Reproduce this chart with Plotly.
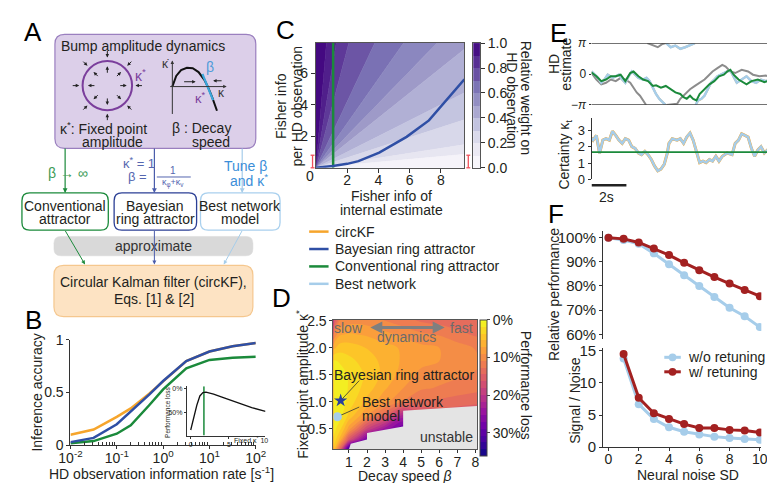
import math
import plotly.graph_objects as go
import plotly.express as px
from plotly.colors import sample_colorscale

W, H = 775, 483
FONT = "Liberation Sans, Arial, sans-serif"
INK = "#231f20"

ORANGE = "#f6a52c"
BLUE = "#2f4fa5"
GREEN = "#1b8a3b"
LBLUE = "#a6cdea"
GRAY = "#8c8c8c"
RED = "#a32121"
PURPLE = "#7b3e9c"

# ---------------- data ----------------
# B: inference accuracy vs HD observation information rate
b_rate = [0.01, 0.0316, 0.1, 0.2, 0.5, 1, 3.16, 10, 31.6, 100]
b_acc_circkf = [0.10, 0.15, 0.27, 0.35, 0.49, 0.61, 0.80, 0.89, 0.94, 0.97]
b_acc_bayes = [0.03, 0.07, 0.20, 0.32, 0.48, 0.61, 0.80, 0.89, 0.94, 0.97]
b_acc_conv = [0.02, 0.04, 0.11, 0.19, 0.38, 0.53, 0.73, 0.81, 0.83, 0.84]
# B inset: performance loss vs fixed kappa*
b_inset_kappa = [0, 0.4, 0.8, 1.2, 1.6, 2.0, 3.0, 4.0, 5.0, 6.5, 8.0, 9.8]
b_inset_loss = [88, 60, 35, 15, 8, 7, 11, 17, 23, 32, 40, 48]
b_inset_conv_kappa = 1.73

# C: relative weight bands (boundary slopes obs/internal) and Bayesian curve
c_ray_slopes = [11.8, 6.1, 3.76, 2.1, 1.41, 1.02, 0.79, 0.5, 0.32, 0.154, 0.09]
c_band_weight = [0.97, 0.9, 0.82, 0.74, 0.66, 0.58, 0.5, 0.42, 0.34, 0.26, 0.17, 0.07]
c_colorbar_levels = [0.05, 0.15, 0.25, 0.35, 0.45, 0.55, 0.65, 0.75, 0.85, 0.95]
c_internal = [0, 0.5, 1.08, 2.0, 2.72, 4.05, 5.0, 5.8, 7.23, 8.3, 9.5]
c_obs_bayes = [0, 0.05, 0.12, 0.25, 0.42, 0.96, 1.5, 1.96, 3.0, 4.2, 5.6]
c_conv_internal = 1.1

# D: performance loss over (decay speed, fixed-point amplitude)
d_beta = [0.14, 0.5, 1, 2, 3, 4, 5, 6, 7, 8.09]
d_kappa = [0.12, 0.3, 0.5, 0.75, 1.0, 1.25, 1.5, 1.75, 2.0, 2.25, 2.52]
d_loss_pct = [
    [4, 14, 34, 36, 36, 36, 36, 36, 36, 36],
    [2, 6, 16, 28, 34, 36, 36, 36, 36, 36],
    [1, 3, 8, 18, 24, 29, 30, 30, 30, 30],
    [0.5, 1, 4, 9, 14, 22, 17, 16, 16, 16],
    [0.3, 0.5, 2.5, 6, 8.5, 11, 13, 13, 13.5, 14],
    [0.3, 0.5, 2, 4.5, 7, 9, 10.5, 11, 11.5, 12],
    [0.5, 1, 2, 4, 6, 8, 9.5, 10, 10.5, 11],
    [1.5, 2, 3, 4.5, 6, 7.5, 8.5, 9, 9.5, 10.5],
    [6, 4.5, 4.5, 5.5, 6.5, 7.5, 8.5, 9, 10, 11],
    [11, 7.5, 7, 7.5, 8.5, 9.5, 10.5, 11, 12, 13],
    [17, 11, 10, 10, 11, 12, 13, 13.5, 14, 14],
]
d_unstable_beta = [1.0, 1.1, 2.0, 2.0, 4.0, 4.0, 8.09, 8.09]
d_unstable_kappa = [0.12, 0.22, 0.3, 0.42, 0.54, 0.83, 0.92, 0.12]
d_bayes_point = (0.54, 1.02)
d_best_point = (0.36, 0.72)

# E: example HD estimates (rad) and certainty over time (s)
e_t_true = [0, 0.28, 0.56, 0.83, 1.11, 1.39, 1.67, 1.94, 2.22, 2.41, 2.59, 2.78, 2.96, 3.13, None,
            3.2, 3.52, 3.8, 4.07, 4.26, None,
            4.3, 4.6, 4.91, 5.09, 5.37, 5.65, 5.93, 6.2, 6.48, 6.67, 6.94, 7.22, 7.5, 7.69, 7.96,
            8.24, 8.61, 8.98, 9.26, 9.63, 10.0, 10.37]
e_hd_true = [0.1, -0.56, -1.05, -0.89, -0.56, -0.72, -0.39, -0.56, -0.89, -1.38, -1.87, -2.2, -2.69, -3.14, None,
             3.14, 2.89, 2.72, 3.05, 3.14, None,
             -3.14, -3.1, -3.02, -2.52, -2.03, -1.54, -1.21, -0.89, -0.56, -0.23, 0.26, 0.59, 0.92, 0.75, 0.26,
             0.1, 0.43, 0.26, -0.07, -0.23, -0.16, -0.39]
e_t_best = [0, 0.19, 0.37, 0.56, 0.74, 0.93, 1.2, 1.39, 1.57, 1.76, 1.94, 2.13, 2.31, 2.5, 2.69, 2.96,
            3.15, 3.33, 3.52, 3.7, 3.89, 4.07, 4.24, None,
            4.28, 4.54, 4.81, 5.09, 5.37, 5.65, 5.93, None,
            5.97, 6.11, 6.3, 6.48, 6.67, 6.85, 7.04, 7.22, 7.41, 7.59, 7.78, 7.96, 8.15, 8.33, 8.61,
            8.89, 9.17, 9.44, 9.72, 10.0, 10.37]
e_hd_best = [0.26, -0.07, -0.39, -0.89, -0.56, -0.07, -0.39, -0.23, -0.07, -0.56, -0.89, -0.23, 0.26, -0.07,
             -0.39, -0.56, -0.39, -0.72, -1.38, -2.03, -2.52, -2.85, -3.14, None,
             3.14, 2.72, 2.89, 2.56, 2.72, 2.89, 3.14, None,
             -3.14, -2.69, -2.52, -2.2, -1.54, -0.89, -0.56, -0.23, -0.07, 0.1, 0.26, 0.36, -0.23, -0.89,
             -0.56, -0.23, -0.72, -0.89, -0.56, -0.72, -0.39]
e_hd_circkf = e_hd_best
e_t_conv = [0, 0.28, 0.56, 0.83, 1.11, 1.39, 1.67, 1.94, 2.22, 2.41, 2.69, 2.96, 3.24, 3.52, 3.7, 3.98,
            4.26, 4.54, 4.81, 5.09, 5.28, 5.46, 5.65, 5.83, 6.02, 6.2, 6.48, 6.76, 7.04, 7.31, 7.59,
            7.78, 7.96, 8.15, 8.43, 8.7, 8.89, 9.17, 9.54, 9.91, 10.37]
e_hd_conv = [0.16, -0.23, -0.72, -0.56, -0.23, -0.23, -0.07, -0.72, 0.1, 0.26, -0.23, -0.56, -0.72, -1.21,
             -1.15, -1.38, -1.21, -1.54, -1.87, -2.03, -2.36, -2.52, -2.2, -2.52, -2.69, -2.03, -1.54,
             -1.05, -0.72, -0.23, -0.07, 0.26, 0.43, -0.07, -0.56, -0.89, -1.05, -0.72, -0.56, -0.82, -0.56]
e_t_cert = [0, 0.09, 0.28, 0.46, 0.65, 0.83, 1.02, 1.2, 1.39, 1.57, 1.76, 1.94, 2.13, 2.31, 2.5, 2.69,
            2.87, 3.06, 3.24, 3.43, 3.61, 3.8, 3.98, 4.17, 4.35, 4.44, 4.63, 4.91, 5.09, 5.28, 5.46,
            5.65, 5.83, 6.02, 6.2, 6.39, 6.57, 6.76, 6.94, 7.13, 7.31, 7.5, 7.78, 8.06, 8.24, 8.43,
            8.61, 8.8, 8.98, 9.17, 9.35, 9.54, 9.72, 9.91, 10.09, 10.37]
e_kappa_best = [2.55, 2.41, 2.7, 1.6, 2.41, 2.5, 2.41, 2.96, 2.7, 2.41, 2.21, 2.5, 2.41, 2.01, 1.91, 1.62,
                1.52, 1.72, 1.52, 1.22, 0.83, 0.53, 0.63, 0.93, 1.62, 2.21, 2.5, 2.41, 2.5, 2.21, 2.6,
                2.84, 2.41, 1.62, 1.03, 1.12, 1.03, 1.22, 1.12, 1.42, 1.12, 1.42, 1.62, 1.52, 2.21, 2.41,
                2.8, 2.7, 2.6, 1.91, 1.42, 1.81, 2.01, 1.62, 1.81, 2.01]
e_kappa_circkf = e_kappa_best
e_kappa_conv = 1.67
e_t_span = [0, 10.37]

# F: noise robustness
f_noise = [0, 1, 2, 3, 4, 5, 6, 7, 8, 9, 10]
f_perf_without = [100, 99, 97.5, 93.5, 89, 84.5, 80, 75.5, 71, 67.5, 63]
f_perf_with = [100, 99.5, 98, 95.5, 92.8, 89.6, 86.5, 83.7, 81, 78.3, 75.8]
f_snr_noise = [1, 2, 3, 4, 5, 6, 7, 8, 9, 10]
f_snr_without = [13.8, 6.7, 4.4, 3.1, 2.4, 2.0, 1.65, 1.45, 1.3, 1.15]
f_snr_with = [14.5, 7.7, 5.3, 4.4, 3.6, 3.0, 3.0, 2.7, 2.6, 2.3]


# ---------------- helpers (pixel -> paper) ----------------
def X(p):
    return p / W


def Y(p):
    return 1 - p / H


def dom_x(a, b):
    return [a / W, b / W]


def dom_y(top, bottom):
    return [1 - bottom / H, 1 - top / H]


shapes = []
annotations = []


def text(x, y, s, size=14, color=INK, **kw):
    kw.setdefault("xanchor", "center")
    kw.setdefault("yanchor", "middle")
    annotations.append(dict(x=X(x), y=Y(y), xref="paper", yref="paper", text=s, showarrow=False,
                            font=dict(size=size, color=color, family=FONT), **kw))


def line(x0, y0, x1, y1, color, width=1.2):
    shapes.append(dict(type="line", xref="paper", yref="paper", x0=X(x0), y0=Y(y0), x1=X(x1), y1=Y(y1),
                       line=dict(color=color, width=width), layer="above"))


def arrow(x0, y0, x1, y1, color, width=1.2, size=1.0):
    # tail offset in screen pixels (ay positive = down)
    annotations.append(dict(x=X(x1), y=Y(y1), ax=x0 - x1, ay=y0 - y1, xref="paper", yref="paper",
                            axref="pixel", ayref="pixel", text="", showarrow=True, arrowhead=2,
                            arrowsize=size, arrowwidth=width, arrowcolor=color, standoff=0))


def rbox(x0, y0, x1, y1, r, fill, edge, width=1.2):
    pts = lambda x, y: f"{X(x):.5f},{Y(y):.5f}"
    path = (f"M {pts(x0 + r, y0)} L {pts(x1 - r, y0)} Q {pts(x1, y0)} {pts(x1, y0 + r)} "
            f"L {pts(x1, y1 - r)} Q {pts(x1, y1)} {pts(x1 - r, y1)} L {pts(x0 + r, y1)} "
            f"Q {pts(x0, y1)} {pts(x0, y1 - r)} L {pts(x0, y0 + r)} Q {pts(x0, y0)} {pts(x0 + r, y0)} Z")
    shapes.append(dict(type="path", xref="paper", yref="paper", path=path, fillcolor=fill,
                       line=dict(color=edge, width=width), layer="below"))


def polyline(points, color, width=1.5):
    path = "M " + " L ".join(f"{X(x):.5f},{Y(y):.5f}" for x, y in points)
    shapes.append(dict(type="path", xref="paper", yref="paper", path=path,
                       line=dict(color=color, width=width), layer="above"))


def axis(domain, anchor, **kw):
    d = dict(domain=domain, anchor=anchor, showgrid=False, zeroline=False, showline=True,
             linecolor="#333", linewidth=1, ticks="outside", ticklen=3, tickcolor="#333",
             tickfont=dict(size=14, color=INK, family=FONT), fixedrange=True)
    d.update(kw)
    return d


fig = go.Figure()

# ---------------- panel A (diagram) ----------------
rbox(36, 19, 243, 137, 10, "#dccfe9", "#9a7fbf")
text(127, 31, "Bump amplitude dynamics", 14)
cx, cy, rr = 90, 72, 25.5
shapes.append(dict(type="circle", xref="paper", yref="paper", x0=X(cx - rr), x1=X(cx + rr),
                   y0=Y(cy + rr), y1=Y(cy - rr), line=dict(color=PURPLE, width=2), layer="above"))
for k in range(8):
    a = math.radians(45 * k)
    ca, sa = math.cos(a), math.sin(a)
    arrow(cx + 37 * ca, cy - 37 * sa, cx + 29 * ca, cy - 29 * sa, "#222", 1, 0.7)
    arrow(cx + 12 * ca, cy - 12 * sa, cx + 20 * ca, cy - 20 * sa, "#222", 1, 0.7)
text(124, 61, "κ<sup>*</sup>", 14, PURPLE)
arrow(157, 101, 157, 46, "#333", 1, 0.7)
arrow(155, 73, 213, 73, "#333", 1, 0.7)
text(150, 50, "κ̇", 12, "#333")
text(208, 80, "κ", 12, "#333")
polyline([(157, 73), (161, 62), (166, 56), (172, 53.5), (178, 54), (184, 58), (190, 66), (194, 74),
          (198, 84), (203, 98)], "#111", 2)
line(188, 60, 199, 87, "#3aa7dc", 2.2)
text(196, 53, "β", 14, "#4f9bd9")
text(186, 85, "κ<sup>*</sup>", 13, PURPLE)
arrow(168, 68, 181, 68, "#222", 1, 0.7)
arrow(209, 67, 199, 67, "#222", 1, 0.7)
text(86, 116, "κ<sup>*</sup>: Fixed point", 14)
text(95, 130, "amplitude", 14)
text(187, 116, "β : Decay", 14)
text(197, 130, "speed", 14)

arrow(46.5, 137, 46.5, 183, GREEN, 1.2, 0.8)
arrow(138.5, 137, 138.5, 183, "#4a5cab", 1.2, 0.8)
arrow(229, 137, 229, 183, LBLUE, 1.2, 0.8)
text(49, 162, "β → ∞", 14, "#3a9a55")
text(123, 152, "κ<sup>*</sup> = 1", 13, "#5566b0")
text(121, 166, "β =", 13, "#5566b0")
line(141, 166.5, 176, 166.5, "#5566b0", 1)
text(158, 160, "1", 10, "#5566b0")
text(158, 173, "κ<sub>φ</sub>+κ<sub>v</sub>", 9, "#5566b0")
text(232, 155, "Tune β", 14, "#3b8ed8")
text(236, 170, "and κ<sup>*</sup>", 14, "#3b8ed8")

rbox(2, 183, 91, 221.5, 8, "white", GREEN, 1.3)
rbox(97, 183, 182, 221.5, 8, "white", "#2b3f95", 1.3)
rbox(186, 183, 268, 221.5, 8, "white", "#a9d0ee", 1.3)
text(46.5, 196, "Conventional", 14)
text(46.5, 210, "attractor", 14)
text(139.5, 196, "Bayesian", 14)
text(139.5, 210, "ring attractor", 14)
text(227, 196, "Best network", 14)
text(227, 210, "model", 14)
rbox(35, 228, 240, 248, 7, "#d9d9d9", "#d9d9d9", 0.5)
text(138, 238, "approximate", 14, "#333")
arrow(46.5, 222, 67, 257, GREEN, 1, 0.8)
arrow(138.5, 222, 138.5, 257, "#4a5cab", 1, 0.8)
arrow(229, 222, 210, 257, LBLUE, 1, 0.8)
rbox(35, 258, 240, 311, 10, "#fde3c3", "#f5c78e")
text(138, 275, "Circular Kalman filter (circKF),", 14)
text(138, 293, "Eqs. [1] &amp; [2]", 14)

# ---------------- panel B ----------------
fig.add_trace(go.Scatter(x=b_rate, y=b_acc_circkf, mode="lines", line=dict(color=ORANGE, width=2.5),
                         xaxis="x", yaxis="y"))
fig.add_trace(go.Scatter(x=b_rate, y=b_acc_conv, mode="lines", line=dict(color=GREEN, width=2.5),
                         xaxis="x", yaxis="y"))
fig.add_trace(go.Scatter(x=b_rate, y=b_acc_bayes, mode="lines", line=dict(color=BLUE, width=2.5),
                         xaxis="x", yaxis="y"))
minor_b = [m * 10 ** e for e in range(-2, 2) for m in range(2, 10)]
fig.update_layout(
    xaxis=axis(dom_x(52, 243), "y", type="log", range=[-2, 2],
               tickvals=[0.01, 0.1, 1, 10, 100],
               ticktext=["10<sup>-2</sup>", "10<sup>-1</sup>", "10<sup>0</sup>", "10<sup>1</sup>",
                         "10<sup>2</sup>"], ticklabelstandoff=-3,
               minor=dict(tickmode="array", tickvals=minor_b, ticks="inside", ticklen=3,
                          tickcolor="#333")),
    yaxis=axis(dom_y(335, 444), "x", range=[0, 1.0], tickvals=[0, 0.5, 1], ticktext=["0", "0.5", "1"]),
)
text(18, 389, "Inference accuracy", 14, textangle=-90)
text(146, 473, "HD observation information rate [s<sup>-1</sup>]", 14)

# inset
fig.add_trace(go.Scatter(x=[b_inset_conv_kappa, b_inset_conv_kappa], y=[-5.6, 100], mode="lines",
                         line=dict(color=GREEN, width=1.5), xaxis="x2", yaxis="y2"))
fig.add_trace(go.Scatter(x=b_inset_kappa, y=b_inset_loss, mode="lines", line=dict(color="#111", width=1.3),
                         xaxis="x2", yaxis="y2"))
small = dict(size=7, color=INK, family=FONT)
fig.update_layout(
    xaxis2=axis(dom_x(172, 253), "y2", range=[-0.5, 9.8], tickvals=[0, 5], ticktext=["0", "5"],
                tickfont=small, ticklen=2),
    yaxis2=axis(dom_y(383, 434), "x2", range=[100, -5.6], tickvals=[0, 50], ticktext=["0%", "50%"],
                tickfont=small, ticklen=2),
)
text(238, 439, "Fixed κ<sup>*</sup> 10", 7)
text(152, 410, "Performance loss", 6.5, textangle=-90)

# ---------------- panel C ----------------
purples = px.colors.sequential.Purples
band_colors = sample_colorscale(purples, c_band_weight)
R = 100.0
for i, col in enumerate(band_colors):
    hi = (0, R) if i == 0 else (R, R * c_ray_slopes[i - 1])
    lo = (R, R * c_ray_slopes[i]) if i < len(c_ray_slopes) else (R, 0)
    fig.add_trace(go.Scatter(x=[0, lo[0], hi[0], 0], y=[0, lo[1], hi[1], 0], mode="lines", fill="toself",
                             fillcolor=col, line=dict(color=col, width=0.6), xaxis="x3", yaxis="y3"))
fig.add_trace(go.Scatter(x=[c_conv_internal, c_conv_internal], y=[0, 7.9], mode="lines",
                         line=dict(color=GREEN, width=2.5), xaxis="x3", yaxis="y3"))
fig.add_trace(go.Scatter(x=c_internal, y=c_obs_bayes, mode="lines", line=dict(color=BLUE, width=2.5),
                         xaxis="x3", yaxis="y3"))
fig.add_trace(go.Heatmap(x=[0], y=c_colorbar_levels, z=[[v] for v in c_colorbar_levels],
                         colorscale=purples, zmin=0, zmax=1, showscale=False, xaxis="x4", yaxis="y4"))
fig.update_layout(
    xaxis3=axis(dom_x(305, 458), "y3", range=[0, 9.5], tickvals=[2, 4, 6, 8], mirror=True,
                linecolor="#555", ticklen=4, ticklabelstandoff=-5),
    yaxis3=axis(dom_y(28, 157), "x3", range=[0, 7.9], tickvals=[2, 4, 6], mirror=True,
                linecolor="#555", ticklen=4),
    xaxis4=axis(dom_x(467, 474), "y4", range=[-0.5, 0.5], showticklabels=False, ticks="", mirror=True,
                linecolor="#555"),
    yaxis4=axis(dom_y(28, 157), "x4", range=[0, 1], side="right", tickvals=[0, 0.2, 0.4, 0.6, 0.8, 1.0],
                ticktext=["0.0", "0.2", "0.4", "0.6", "0.8", "1.0"], mirror=True, linecolor="#555",
                ticklen=4),
)
text(299, 165, "0", 14)
text(269, 93, "Fisher info", 14, textangle=-90)
text(285, 93, "per HD observation", 14, textangle=-90)
text(383, 186, "Fisher info of", 14)
text(383, 201, "internal estimate", 14)
text(521, 84, "Relative weight on", 14, textangle=90)
text(507, 88, "HD observation", 14, textangle=90)
for xx in (301.5, 462):
    line(xx, 144, xx, 157, "#f0505a", 1.3)
    line(xx - 2, 144, xx + 2, 144, "#f0505a", 1.3)
    line(xx - 2, 157, xx + 2, 157, "#f0505a", 1.3)

# legend under C
for yy, col, lab in [(223, ORANGE, "circKF"), (241, BLUE, "Bayesian ring attractor"),
                     (259, GREEN, "Conventional ring attractor"), (277, LBLUE, "Best network")]:
    line(298, yy, 318, yy, col, 2.5)
    text(323, yy, lab, 14, xanchor="left")

# ---------------- panel D ----------------
# negative loss so that the colorbar shows 0% at the top
d_loss_neg = [[-v / 100 for v in row] for row in d_loss_pct]
fig.add_trace(go.Contour(
    x=d_beta, y=d_kappa, z=d_loss_neg, colorscale=px.colors.sequential.Plasma, zmin=-0.36, zmax=0,
    contours=dict(start=-0.36, end=0, size=0.018, coloring="fill"), line=dict(width=0),
    xaxis="x5", yaxis="y5",
    colorbar=dict(x=X(474), xanchor="left", y=Y(314), yanchor="top", len=136, lenmode="pixels",
                  thickness=7, xpad=0, ypad=0, outlinewidth=1, outlinecolor="#444",
                  tickvals=[0, -0.1, -0.2, -0.3], ticktext=["0%", "10%", "20%", "30%"], ticks="outside",
                  ticklen=3, tickfont=dict(size=14, color=INK, family=FONT)),
))
fig.add_trace(go.Scatter(x=d_unstable_beta, y=d_unstable_kappa, mode="lines", fill="toself",
                         fillcolor="#e4e4e4", line=dict(width=0, color="#e4e4e4"), xaxis="x5", yaxis="y5"))
fig.add_trace(go.Scatter(x=[d_bayes_point[0], 1.57], y=[d_bayes_point[1], 1.39], mode="lines",
                         line=dict(color="#333", width=0.8), xaxis="x5", yaxis="y5"))
fig.add_trace(go.Scatter(x=[d_best_point[0], 1.57], y=[d_best_point[1], 0.9], mode="lines",
                         line=dict(color="#333", width=0.8), xaxis="x5", yaxis="y5"))
fig.add_trace(go.Scatter(x=[d_bayes_point[0]], y=[d_bayes_point[1]], mode="markers",
                         marker=dict(symbol="star", size=10, color="#283f9e"), xaxis="x5", yaxis="y5"))
fig.add_trace(go.Scatter(x=[d_best_point[0]], y=[d_best_point[1]], mode="markers",
                         marker=dict(symbol="circle", size=9, color=LBLUE), xaxis="x5", yaxis="y5"))
fig.update_layout(
    xaxis5=axis(dom_x(323, 471), "y5", range=[0.14, 8.09], tickvals=[1, 2, 3, 4, 5, 6, 7, 8], mirror=True,
                linecolor="#555", ticklabelstandoff=-3),
    yaxis5=axis(dom_y(314, 448), "x5", range=[0.12, 2.52], tickvals=[0.5, 1.0, 1.5, 2.0, 2.5],
                ticktext=["0.5", "1.0", "1.5", "2.0", "2.5"], mirror=True, linecolor="#555"),
)


def dtext(x, y, s, size=14, color=INK, **kw):
    kw.setdefault("xanchor", "center")
    annotations.append(dict(x=x, y=y, xref="x5", yref="y5", text=s, showarrow=False,
                            font=dict(size=size, color=color, family=FONT), yanchor="middle", **kw))


dtext(0.95, 2.37, "slow", 14, "#6b6b6b")
dtext(7.24, 2.37, "fast", 14, "#6b6b6b")
dtext(4.2, 2.19, "dynamics", 14, "#6b6b6b")
annotations.append(dict(x=6.3, y=2.375, ax=2.1, ay=2.375, xref="x5", yref="y5", axref="x5", ayref="y5",
                        text="", showarrow=True, arrowhead=2, arrowside="end+start", arrowsize=0.8,
                        arrowwidth=3, arrowcolor="#7f7f7f", standoff=0, startstandoff=0))
dtext(4.07, 1.5, "Bayesian ring attractor", 14)
dtext(1.62, 1.0, "Best network", 14, xanchor="left")
dtext(1.62, 0.74, "model", 14, xanchor="left")
dtext(6.4, 0.34, "unstable", 14, "#333")
text(291, 381, "Fixed-point amplitude κ<sup>*</sup>", 14, textangle=-90)
text(397, 476, "Decay speed <i>β</i>", 14)
text(521, 382, "Performance loss", 14, textangle=90)

# ---------------- panel E ----------------
fig.add_trace(go.Scatter(x=e_t_true, y=e_hd_true, mode="lines", line=dict(color=GRAY, width=2),
                         connectgaps=False, xaxis="x6", yaxis="y6"))
fig.add_trace(go.Scatter(x=e_t_best, y=e_hd_circkf, mode="lines", line=dict(color=ORANGE, width=2),
                         connectgaps=False, xaxis="x6", yaxis="y6"))
fig.add_trace(go.Scatter(x=e_t_best, y=e_hd_best, mode="lines", line=dict(color=LBLUE, width=2.5),
                         connectgaps=False, xaxis="x6", yaxis="y6"))
fig.add_trace(go.Scatter(x=e_t_conv, y=e_hd_conv, mode="lines", line=dict(color=GREEN, width=2),
                         xaxis="x6", yaxis="y6"))
fig.add_trace(go.Scatter(x=e_t_cert, y=e_kappa_circkf, mode="lines", line=dict(color=ORANGE, width=3),
                         xaxis="x7", yaxis="y7"))
fig.add_trace(go.Scatter(x=e_t_cert, y=e_kappa_best, mode="lines", line=dict(color=LBLUE, width=2.5),
                         xaxis="x7", yaxis="y7"))
fig.add_trace(go.Scatter(x=e_t_span, y=[e_kappa_conv, e_kappa_conv], mode="lines",
                         line=dict(color=GREEN, width=1.8), xaxis="x7", yaxis="y7"))
fig.update_layout(
    xaxis6=axis(dom_x(589, 775), "y6", range=[0, 10.35], visible=False),
    yaxis6=axis(dom_y(28, 92), "x6", range=[-math.pi, math.pi], showline=False,
                tickvals=[-math.pi, 0, math.pi], ticktext=["−<i>π</i>", "0", "<i>π</i>"],
                tickfont=dict(size=12, color=INK, family=FONT), ticklen=2),
    xaxis7=axis(dom_x(589, 775), "y7", range=[0, 10.35], visible=False),
    yaxis7=axis(dom_y(105, 169), "x7", range=[0, 3.8], tickvals=[0, 1, 2, 3],
                tickfont=dict(size=13, color=INK, family=FONT)),
)
for yv in (-math.pi, math.pi):
    shapes.append(dict(type="line", xref="x6 domain", yref="y6", x0=0, x1=1, y0=yv, y1=yv,
                       line=dict(color="#444", width=1.5), layer="above"))
shapes.append(dict(type="line", xref="x7", yref="paper", x0=0, x1=2, y0=Y(175), y1=Y(175),
                   line=dict(color="#222", width=2.5)))
text(604, 187, "2s", 14)
text(551, 50, "HD", 14, textangle=-90)
text(563, 50, "estimate", 14, textangle=-90)
text(562, 143, "Certainty κ<sub>t</sub>", 14, textangle=-90)

# ---------------- panel F ----------------
fig.add_trace(go.Scatter(x=f_noise, y=f_perf_without, mode="lines+markers", line=dict(color=LBLUE, width=3),
                         marker=dict(size=8, color=LBLUE), xaxis="x8", yaxis="y8"))
fig.add_trace(go.Scatter(x=f_noise, y=f_perf_with, mode="lines+markers", line=dict(color=RED, width=3),
                         marker=dict(size=8, color=RED), xaxis="x8", yaxis="y8"))
fig.add_trace(go.Scatter(x=f_snr_noise, y=f_snr_without, mode="lines+markers", line=dict(color=LBLUE, width=3),
                         marker=dict(size=8, color=LBLUE), xaxis="x9", yaxis="y9"))
fig.add_trace(go.Scatter(x=f_snr_noise, y=f_snr_with, mode="lines+markers", line=dict(color=RED, width=3),
                         marker=dict(size=8, color=RED), xaxis="x9", yaxis="y9"))
fig.update_layout(
    xaxis8=axis(dom_x(601, 764), "y8", range=[-0.35, 10.1], visible=False),
    yaxis8=axis(dom_y(222, 334), "x8", range=[58.1, 102.9], tickvals=[60, 70, 80, 90, 100],
                ticktext=["60%", "70%", "80%", "90%", "100%"], tickfont=dict(size=15, color=INK, family=FONT)),
    xaxis9=axis(dom_x(601, 764), "y9", range=[-0.35, 10.1], tickvals=[0, 2, 4, 6, 8, 10],
                tickfont=dict(size=14, color=INK, family=FONT), ticklabelstandoff=-4),
    yaxis9=axis(dom_y(343, 446), "x9", range=[0, 15.5], tickvals=[0, 5, 10, 15],
                tickfont=dict(size=15, color=INK, family=FONT)),
)
text(551, 288, "Relative performance", 14, textangle=-90)
text(572, 398, "Signal / Noise", 14, textangle=-90)
text(688, 475, "Neural noise SD", 14)
for yy, col, lab in [(353, LBLUE, "w/o retuning"), (368, RED, "w/ retuning")]:
    line(664, yy, 681, yy, col, 3)
    shapes.append(dict(type="circle", xref="paper", yref="paper", x0=X(668.5), x1=X(676.5),
                       y0=Y(yy + 4), y1=Y(yy - 4), fillcolor=col, line=dict(color=col, width=0),
                       layer="above"))
    text(686, yy, lab, 14, xanchor="left")

# ---------------- panel letters ----------------
for lx, ly, lab in [(13, 17, "A"), (14, 314, "B"), (274, 14, "C"), (269, 292, "D"), (555, 18, "E"),
                    (552, 205, "F")]:
    text(lx, ly, lab, 26, "#000")

fig.update_layout(
    width=W, height=H, margin=dict(l=0, r=0, t=0, b=0), showlegend=False,
    paper_bgcolor="white", plot_bgcolor="rgba(0,0,0,0)", hovermode=False,
    font=dict(family=FONT, color=INK), shapes=shapes, annotations=annotations,
)
fig.write_html("out.html")
